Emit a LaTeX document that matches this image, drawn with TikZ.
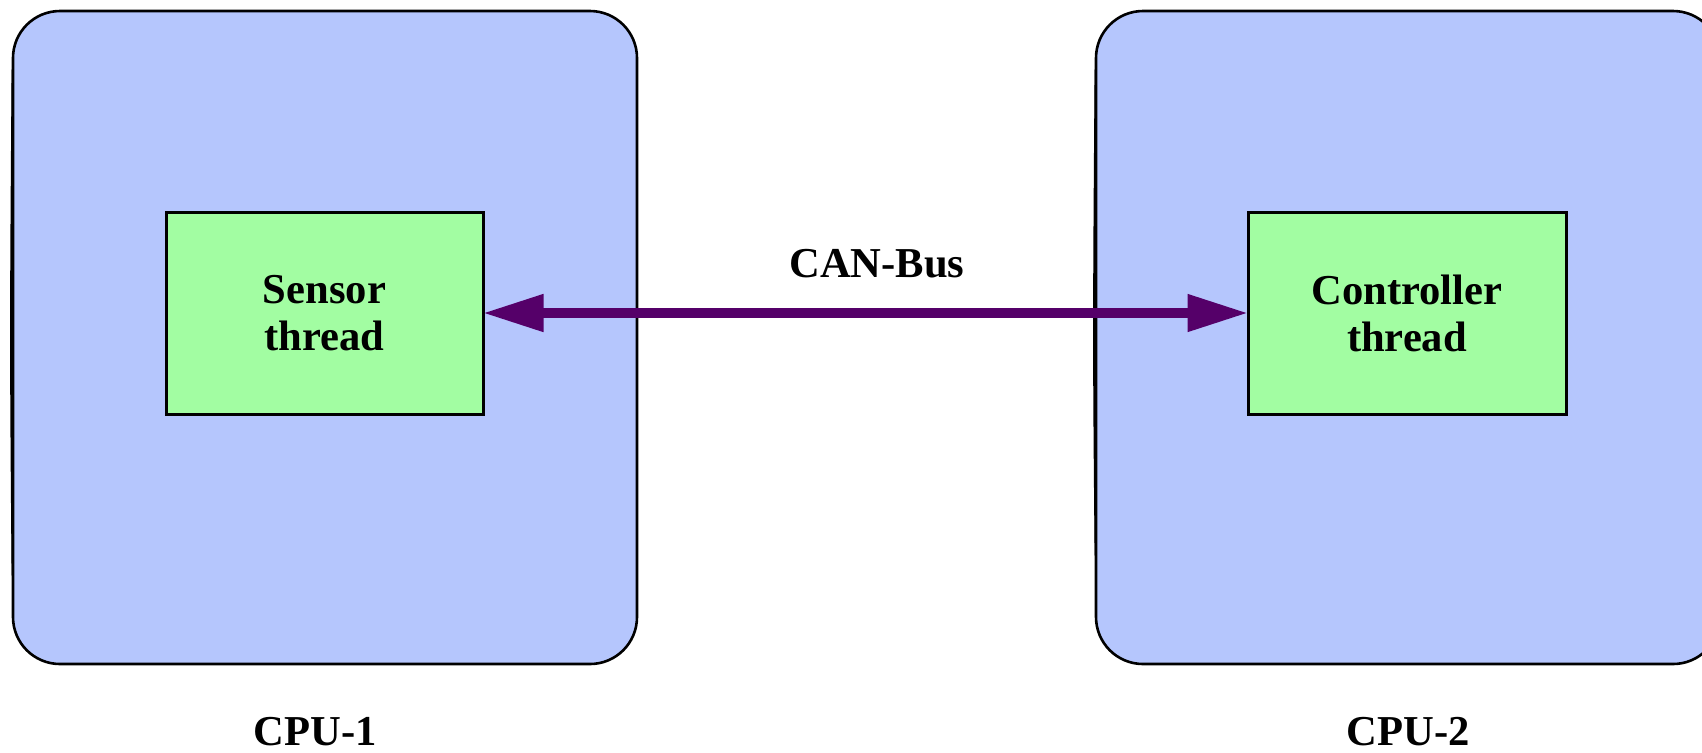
\documentclass[tikz,border=0pt]{standalone}
\usepackage{fontspec}
\setmainfont{Liberation Serif}
\usetikzlibrary{arrows.meta,calc}
\definecolor{cpufill}{HTML}{B5C6FD}
\definecolor{thrfill}{HTML}{A2FDA2}
\definecolor{busline}{HTML}{550069}
\tikzset{
  cpubox/.style={draw=black, line width=1.3pt, fill=cpufill, rounded corners=23.5pt,
    minimum width=312pt, minimum height=326.5pt, inner sep=0pt},
  sketch/.style={draw=black, line width=1.1pt, line cap=round},
  thrbox/.style={draw=black, line width=1.5pt, fill=thrfill,
    minimum height=101pt, inner sep=0pt, align=center,
    font=\bfseries\fontsize{21.3}{23.5}\selectfont},
  lbl/.style={font=\bfseries\fontsize{21.3}{23.5}\selectfont, inner sep=0pt, anchor=base},
  bus/.style={draw=busline, line width=5.3pt, shorten <=-1pt, shorten >=-1pt,
    {Triangle[length=30.5pt,width=17.5pt]}-{Triangle[length=30.5pt,width=17.5pt]}}
}
\begin{document}
\begin{tikzpicture}[x=0.5pt,y=-0.5pt]
  \useasboundingbox (0,0) rectangle (1702,752);
  \clip (0,0) rectangle (1702,752);
  \fill[white] (0,0) rectangle (1702,752);
  % processor boards
  \node[cpubox] (cpu1) at (325,337.5) {};
  \node[cpubox] (cpu2) at (1408,337.5) {};
  % heavier hand-drawn strokes along the left edges
  \draw[sketch] ($(cpu1.north west)+(1,60)$) .. controls ($(cpu1.west)+(-1,0)$) .. ($(cpu1.south west)+(1,-90)$);
  \draw[sketch] ($(cpu2.north west)+(1,60)$) .. controls ($(cpu2.west)+(-1,0)$) .. ($(cpu2.south west)+(1,-110)$);
  % threads
  \node[thrbox, minimum width=158.5pt] (sensor) at (324.5,313) {Sensor\\thread};
  \node[thrbox, minimum width=159pt] (ctrl) at (1407,313) {Controller\\thread};
  % bus between the threads
  \draw[bus] (sensor.east) -- (ctrl.west);
  \node[lbl] (buslbl) at (877,277) {CAN-Bus};
  % board captions
  \node[lbl] (cpu1lbl) at (315,745) {CPU-1};
  \node[lbl] (cpu2lbl) at (1408,745) {CPU-2};
\end{tikzpicture}
\end{document}
